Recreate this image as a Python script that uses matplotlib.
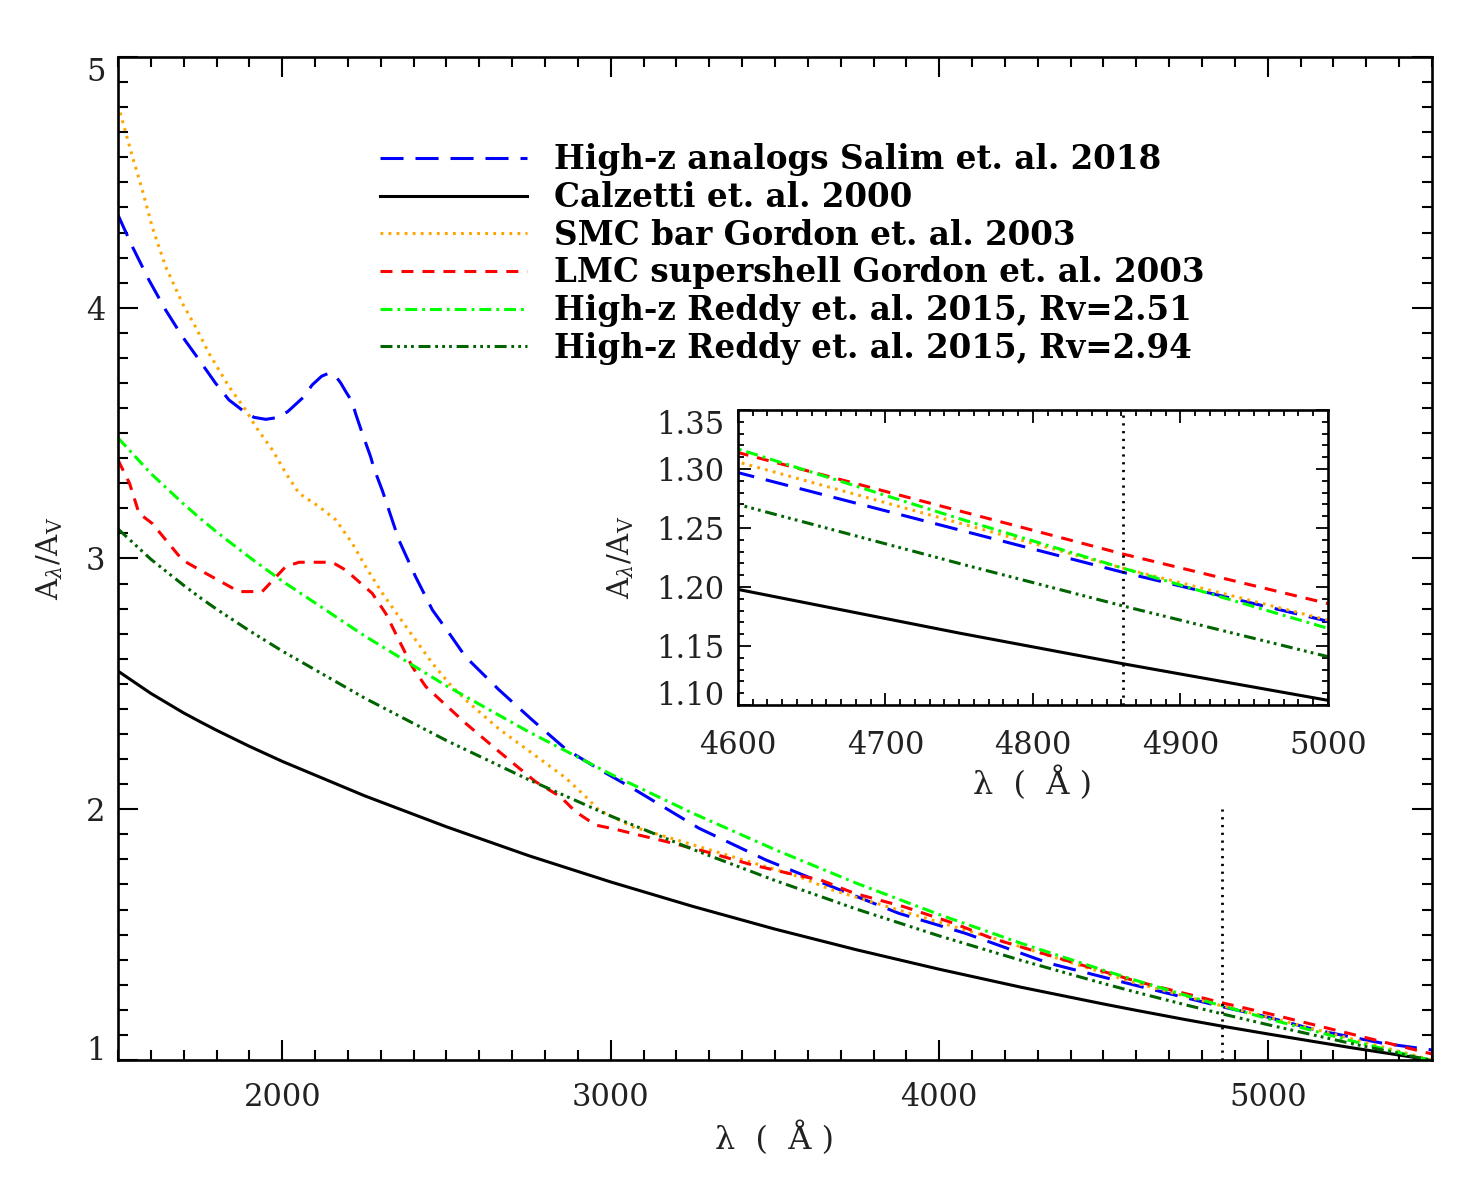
import numpy as np
import matplotlib
matplotlib.use('Agg')
import matplotlib.pyplot as plt
from matplotlib.ticker import MultipleLocator, FormatStrFormatter

plt.rcParams.update({
    'font.family': 'DejaVu Serif', 'mathtext.fontset': 'dejavuserif',
    'lines.scale_dashes': False, 'axes.linewidth': 1.9,
})

# ---- data (wavelength in Angstrom, A_lambda / A_V) ----
wl_salim = [1500, 1544, 1594, 1645, 1696, 1747, 1797, 1838, 1878, 1914, 1950,
            1985, 2016, 2066, 2091, 2120, 2142, 2162, 2178, 2195, 2213, 2223,
            2246, 2269, 2279, 2305, 2355, 2406, 2457, 2508, 2558, 2660, 2761,
            2863, 2964, 3066, 3269, 3472, 3674, 3877, 4080, 4334, 4600, 4861,
            5000, 5146, 5349, 5500]
a_salim = [4.370, 4.243, 4.111, 3.991, 3.885, 3.792, 3.699, 3.632, 3.592, 3.563,
           3.555, 3.562, 3.585, 3.645, 3.692, 3.727, 3.739, 3.728, 3.700, 3.662,
           3.625, 3.579, 3.490, 3.406, 3.360, 3.270, 3.074, 2.927, 2.795, 2.702,
           2.608, 2.476, 2.356, 2.240, 2.160, 2.084, 1.924, 1.798, 1.691, 1.585,
           1.505, 1.386, 1.297, 1.2125, 1.171, 1.120, 1.067, 1.040]

wl_calz = [1500, 1600, 1700, 1750, 1800, 1900, 2000, 2250, 2500, 2750, 3000,
           3250, 3500, 3750, 4000, 4250, 4500, 4600, 4750, 4861, 5000, 5250, 5500]
a_calz = [2.551, 2.462, 2.384, 2.349, 2.315, 2.251, 2.191, 2.054, 1.930, 1.815,
          1.710, 1.6125, 1.522, 1.439, 1.362, 1.290, 1.2234, 1.198, 1.161, 1.135,
          1.104, 1.050, 0.9995]

wl_smc = [1500, 1544, 1574, 1604, 1645, 1696, 1736, 1777, 1838, 1889, 1919, 1970,
          2011, 2051, 2112, 2163, 2213, 2254, 2305, 2355, 2406, 2457, 2508, 2558,
          2660, 2761, 2863, 2924, 2964, 3066, 3167, 3269, 3370, 3472, 3573, 3674,
          3877, 4080, 4182, 4600, 4861, 5000, 5500]
a_smc = [4.809, 4.602, 4.470, 4.323, 4.164, 4.018, 3.924, 3.818, 3.685, 3.592,
         3.526, 3.433, 3.340, 3.260, 3.207, 3.154, 3.061, 2.967, 2.861, 2.768,
         2.675, 2.582, 2.502, 2.436, 2.320, 2.223, 2.125, 2.050, 1.997, 1.930,
         1.891, 1.851, 1.811, 1.771, 1.731, 1.678, 1.598, 1.518, 1.479, 1.306,
         1.216, 1.172, 1.000]

wl_lmc = [1500, 1535, 1564, 1604, 1696, 1767, 1868, 1939, 2010, 2051, 2152, 2193,
          2274, 2315, 2355, 2396, 2437, 2558, 2660, 2771, 2847, 2893, 2954, 3015,
          3086, 3157, 3289, 3431, 3563, 3639, 3741, 3893, 4045, 4161, 4600, 4861,
          5000, 5500]
a_lmc = [3.393, 3.300, 3.180, 3.140, 2.994, 2.941, 2.868, 2.868, 2.967, 2.985,
         2.985, 2.954, 2.861, 2.781, 2.675, 2.568, 2.489, 2.343, 2.230, 2.110,
         2.050, 1.990, 1.937, 1.920, 1.897, 1.875, 1.831, 1.778, 1.738, 1.718,
         1.665, 1.611, 1.545, 1.485, 1.314, 1.228, 1.186, 1.024]

wl_reddy = [1500, 1600, 1700, 1750, 1800, 1900, 2000, 2250, 2500, 2750, 3000,
            3250, 3500, 3750, 4000, 4250, 4500, 4600, 4750, 4861, 5000, 5250, 5500]
a_reddy251 = [3.481, 3.339, 3.217, 3.160, 3.106, 3.005, 2.910, 2.692, 2.492, 2.309,
              2.140, 1.984, 1.839, 1.704, 1.580, 1.465, 1.358, 1.317, 1.258, 1.216,
              1.165, 1.078, 0.997]
a_reddy294 = [3.118, 2.997, 2.893, 2.844, 2.798, 2.712, 2.631, 2.444, 2.274, 2.118,
              1.973, 1.840, 1.716, 1.601, 1.495, 1.397, 1.305, 1.270, 1.220, 1.184,
              1.141, 1.067, 0.998]

hbeta = 4861
hbeta_top = 2.0

labels = ['High-z analogs Salim et. al. 2018', 'Calzetti et. al. 2000',
          'SMC bar Gordon et. al. 2003', 'LMC supershell Gordon et. al. 2003',
          'High-z Reddy et. al. 2015, Rv=2.51', 'High-z Reddy et. al. 2015, Rv=2.94']

series = [(wl_salim, a_salim), (wl_calz, a_calz), (wl_smc, a_smc),
          (wl_lmc, a_lmc), (wl_reddy, a_reddy251), (wl_reddy, a_reddy294)]
lw = 2.2
styles = [dict(color='#0000ff', dashes=(16.6, 8.6)),
          dict(color='black', linestyle='-'),
          dict(color='#ffa500', dashes=(2.0, 3.8)),
          dict(color='#ff0000', dashes=(8.6, 6.5)),
          dict(color='#00ff00', dashes=(8.6, 3.6, 2.0, 3.6)),
          dict(color='#006400', dashes=(8.6, 3.4, 2.0, 3.0, 2.0, 3.0, 2.0, 3.4))]

fig = plt.figure(figsize=(14.75, 11.8), dpi=100)
ax = fig.add_axes([0.0800, 0.1017, 0.8908, 0.8500])
ins = fig.add_axes([0.5003, 0.4025, 0.4000, 0.2500])

for (x, y), st, lab in zip(series, styles, labels):
    ax.plot(x, y, lw=lw, label=lab, **st)
    ins.plot(x, y, lw=lw, **st)

ax.vlines(hbeta, 1.0, hbeta_top, color='black', lw=2.0, linestyles=(0, (1.6, 4.0)))
ins.axvline(hbeta, color='black', lw=2.0, linestyle=(0, (1.6, 4.0)))

ax.set_xlim(1500, 5500)
ax.set_ylim(1, 5)
ax.xaxis.set_major_locator(MultipleLocator(1000))
ax.xaxis.set_minor_locator(MultipleLocator(100))
ax.yaxis.set_major_locator(MultipleLocator(1))
ax.yaxis.set_minor_locator(MultipleLocator(0.1))
ax.tick_params(which='both', direction='in', top=True, right=True, width=1.5,
               labelsize=22, labelcolor='#222222')
ax.tick_params(which='major', length=14.5)
ax.tick_params(which='minor', length=7.2)
ax.tick_params(axis='x', pad=16)
ax.tick_params(axis='y', pad=9)
ax.set_xlabel('λ  (  Å )', fontsize=23, color='#222222', labelpad=6)
ax.set_ylabel(r'A$_\lambda$/A$_\mathrm{V}$', fontsize=21, color='#222222', labelpad=15)

ins.set_xlim(4600, 5000)
ins.set_ylim(1.10, 1.35)
ins.xaxis.set_major_locator(MultipleLocator(100))
ins.xaxis.set_minor_locator(MultipleLocator(10))
ins.yaxis.set_major_locator(MultipleLocator(0.05))
ins.yaxis.set_minor_locator(MultipleLocator(0.01))
ins.yaxis.set_major_formatter(FormatStrFormatter('%.2f'))
ins.tick_params(which='both', direction='in', top=True, right=True, width=1.3,
                labelsize=22, labelcolor='#222222')
ins.tick_params(which='major', length=9)
ins.tick_params(which='minor', length=4.5)
ins.tick_params(axis='x', pad=18)
ins.tick_params(axis='y', pad=10)
ins.set_xlabel('λ  (  Å )', fontsize=23, color='#222222', labelpad=4)
ins.set_ylabel(r'A$_\lambda$/A$_\mathrm{V}$', fontsize=21, color='#222222', labelpad=14)

ax.legend(loc='upper left', bbox_to_anchor=(0.1994, 0.914), frameon=False,
          handlelength=4.5, handletextpad=0.82, labelspacing=0.145,
          borderpad=0, borderaxespad=0,
          prop=dict(family='DejaVu Serif', weight='bold', size=23.5))

# edge labels on the y axes sit inside the axis range, as in the original
fig.canvas.draw()
for a in (ax, ins):
    lo, hi = a.get_ylim()
    for t in a.yaxis.get_major_ticks():
        if np.isclose(t.get_loc(), hi):
            t.label1.set_va('top')
        elif np.isclose(t.get_loc(), lo):
            t.label1.set_va('baseline')

fig.savefig('out.png', dpi=100)
